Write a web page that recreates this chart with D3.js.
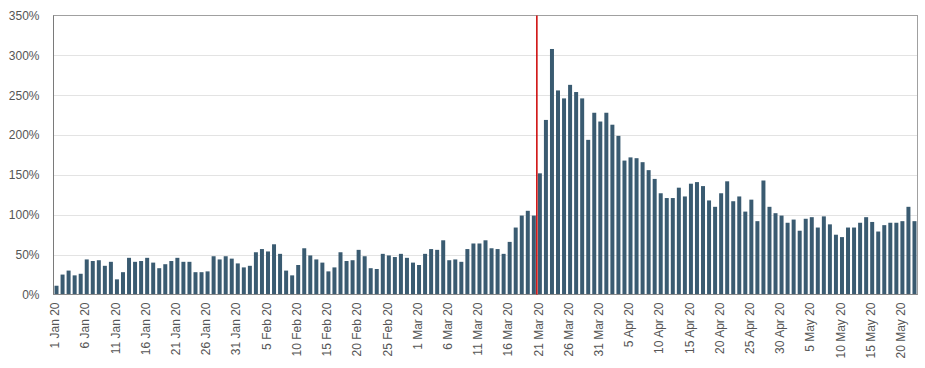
<!DOCTYPE html>
<html><head><meta charset="utf-8">
<script src="https://cdn.jsdelivr.net/npm/d3@7/dist/d3.min.js"></script>
<style>
body{margin:0;background:#fff}
svg text{font-family:"Liberation Sans",Arial,sans-serif;font-size:12px;fill:#555}
</style></head>
<body><svg id="chart" width="925" height="368"></svg>
<script>
// Daily values (%), 1 Jan 2020 .. 22 May 2020
const values = [
 11,25,30,24,26,44,42,43,36,41,
 19,28,46,41,42,46,40,33,38,42,
 46,41,41,28,28,29,48,44,48,45,
 39,34,36,53,57,54,63,51,30,24,
 37,58,49,44,40,29,34,53,42,43,
 56,48,33,32,51,49,47,51,46,40,
 37,51,57,56,68,43,44,41,57,64,
 64,68,58,57,51,66,84,99,105,99,
 152,219,308,256,246,263,254,246,194,228,
 217,228,213,199,168,172,171,166,156,145,
 127,121,121,134,123,139,141,136,118,110,
 127,142,117,123,104,119,92,143,110,102,
 99,90,94,80,95,97,84,98,88,75,
 72,84,84,90,97,91,79,87,90,90,
 92,110,92
];
const startDate = new Date(2020, 0, 1);
const tickLabels = ["1 Jan 20","6 Jan 20","11 Jan 20","16 Jan 20","21 Jan 20","26 Jan 20","31 Jan 20",
 "5 Feb 20","10 Feb 20","15 Feb 20","20 Feb 20","25 Feb 20","1 Mar 20","6 Mar 20","11 Mar 20",
 "16 Mar 20","21 Mar 20","26 Mar 20","31 Mar 20","5 Apr 20","10 Apr 20","15 Apr 20","20 Apr 20",
 "25 Apr 20","30 Apr 20","5 May 20","10 May 20","15 May 20","20 May 20"];
const yTicks = [0,50,100,150,200,250,300,350];
const eventLabel = "21 Mar 20";

const fmt = d3.timeFormat("%-d %b %y");
const days = d3.timeDay.range(startDate, d3.timeDay.offset(startDate, values.length));
const cats = days.map(fmt);
const data = cats.map((c, i) => ({c, v: values[i]}));

const L = 53.5, R = 917.5, T = 15.5, B = 294.5;
const svg = d3.select("#chart");

const x = d3.scaleBand().domain(cats).range([L, R]).paddingInner(0.34).paddingOuter(0.17);
const y = d3.scaleLinear().domain([0, 350]).range([B, T]);

// gridlines
svg.append("g").selectAll("line").data(yTicks.filter(t => t > 0 && t < 350)).join("line")
  .attr("x1", L).attr("x2", R).attr("y1", d => Math.round(y(d)) + 0.5).attr("y2", d => Math.round(y(d)) + 0.5)
  .attr("stroke", "#e3e3e3").attr("stroke-width", 1);

// bars
svg.append("g").selectAll("rect").data(data).join("rect")
  .attr("x", d => x(d.c)).attr("width", x.bandwidth())
  .attr("y", d => y(d.v)).attr("height", d => y(0) - y(d.v))
  .attr("fill", "#3a5b71");

// frame
svg.append("rect").attr("x", L).attr("y", T).attr("width", R - L).attr("height", B - T)
  .attr("fill", "none").attr("stroke", "#a0a0a0").attr("stroke-width", 1);
svg.append("line").attr("x1", L).attr("x2", L).attr("y1", T).attr("y2", B).attr("stroke", "#7a7a7a");
svg.append("line").attr("x1", L).attr("x2", R).attr("y1", B).attr("y2", B).attr("stroke", "#8a8a8a");

// event line
const step = x.step();
const ex = x(eventLabel) - (step - x.bandwidth()) / 2;
svg.append("line").attr("x1", ex).attr("x2", ex).attr("y1", T).attr("y2", B)
  .attr("stroke", "#cc0000").attr("stroke-width", 1.5);

// y axis
const yAxis = d3.axisLeft(y).tickValues(yTicks).tickFormat(d => d + "%").tickSize(0).tickPadding(14);
const gy = svg.append("g").attr("transform", `translate(${L},0)`).call(yAxis);
gy.select(".domain").remove();
gy.selectAll("text").style("font-size", "12px").attr("fill", "#555");

// x axis
const xAxis = d3.axisBottom(x).tickValues(tickLabels).tickSize(0).tickPadding(0);
const gx = svg.append("g").attr("transform", `translate(0,${B})`).call(xAxis);
gx.select(".domain").remove();
gx.selectAll("text")
  .attr("transform", "rotate(-90)")
  .attr("x", -8).attr("y", -1.5).attr("dy", "0.35em")
  .style("text-anchor", "end").attr("fill", "#555").style("font-size", "12px");
</script></body></html>
